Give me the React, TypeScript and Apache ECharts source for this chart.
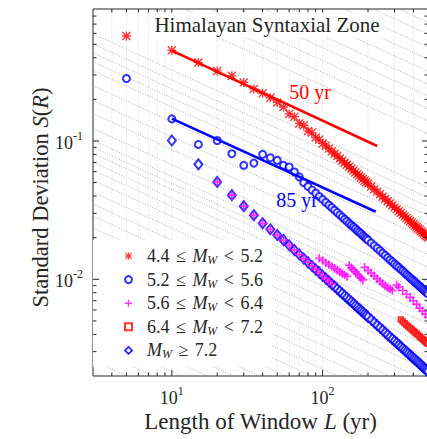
import React, { useEffect, useRef } from 'react';
import * as echarts from 'echarts';

// ---------- axis ranges & ticks ----------
const X_MIN = 3;
const X_MAX = 500;
const Y_MIN = 0.002;
const Y_MAX = 0.9;
const xTickValues = [4, 5, 6, 7, 8, 9, 10, 20, 30, 40, 50, 60, 70, 80, 90, 100, 200, 300, 400];
const xMajorTicks = [10, 100];
const yTickValues = [0.003, 0.004, 0.005, 0.006, 0.007, 0.008, 0.009, 0.01, 0.02, 0.03, 0.04, 0.05, 0.06, 0.07, 0.08, 0.09, 0.1, 0.2, 0.3, 0.4, 0.5, 0.6, 0.7, 0.8];
const yMajorTicks = [0.01, 0.1];

// ---------- 4.4 <= Mw < 5.2 (red asterisks) ----------
const winA = [5, 10, 15, 20, 25, 30, 35, 40, 45, 50, 55, 60, 65, 70, 75, 80, 85, 90, 95, 100,
  105, 110, 115, 120, 125, 130, 135, 140, 145, 150, 155, 160, 165, 170, 175, 180, 185, 190, 195, 200,
  210, 220, 230, 240, 250, 260, 270, 280, 290, 300,
  310, 320, 330, 340, 350, 360, 370, 380, 390, 400, 410, 420, 430, 440, 450, 460, 470, 480, 490, 500];
const sA = [0.574, 0.453, 0.369, 0.321, 0.296, 0.265, 0.238, 0.221, 0.205, 0.190, 0.176, 0.157, 0.150, 0.134, 0.130, 0.118, 0.115, 0.106, 0.102, 0.096,
  0.0922, 0.0881, 0.0843, 0.0809, 0.0778, 0.0748, 0.0721, 0.0696, 0.0673, 0.0651, 0.0630, 0.0611, 0.0593, 0.0576, 0.0560, 0.0545, 0.0531, 0.0517, 0.0504, 0.0492,
  0.0469, 0.0448, 0.0429, 0.0412, 0.0396, 0.0381, 0.0367, 0.0354, 0.0342, 0.0331,
  0.0321, 0.0311, 0.0302, 0.0293, 0.0285, 0.0277, 0.0270, 0.0263, 0.0256, 0.0250, 0.0244, 0.0239, 0.0233, 0.0228, 0.0223, 0.0218, 0.0214, 0.0209, 0.0205, 0.0201];

// ---------- 5.2 <= Mw < 5.6 (blue circles) ----------
const winB = [5, 10, 15, 20, 25, 30, 35, 40, 45, 50, 55, 60, 65, 70, 75, 80, 85, 90, 95, 100,
  105, 110, 115, 120, 125, 130, 135, 140, 145, 150, 155, 160, 165, 170, 175, 180, 185, 190, 195, 200,
  210, 220, 230, 240, 250, 260, 270, 280, 290, 300,
  310, 320, 330, 340, 350, 360, 370, 380, 390, 400, 410, 420, 430, 440, 450, 460, 470, 480, 490, 500];
const sB = [0.283, 0.1445, 0.0944, 0.1008, 0.0809, 0.0667, 0.0692, 0.0800, 0.0757, 0.0724, 0.0667, 0.0649, 0.0597, 0.0550, 0.0500, 0.0469, 0.0442, 0.0419, 0.0397, 0.0378,
  0.0360, 0.0344, 0.0330, 0.0316, 0.0304, 0.0292, 0.0282, 0.0272, 0.0263, 0.0254, 0.0246, 0.0239, 0.0232, 0.0225, 0.0219, 0.0213, 0.0207, 0.0202, 0.0197, 0.0192,
  0.01832, 0.0175, 0.01677, 0.0161, 0.01546, 0.0149, 0.01434, 0.0138, 0.01338, 0.0129,
  0.01253, 0.0122, 0.01179, 0.0115, 0.01114, 0.0108, 0.01055, 0.0103, 0.01002, 0.00978, 0.00954, 0.00932, 0.00911, 0.00891, 0.00872, 0.00853, 0.00835, 0.00818, 0.00802, 0.00786];

// ---------- 5.6 <= Mw < 6.4 (magenta plus) ----------
const winC = [20, 25, 30, 35, 40, 45, 50, 55, 60, 65, 70, 75, 80, 85, 90, 95, 100, 105, 110, 115,
  95, 100, 105, 110, 115, 120, 125, 130, 135, 140, 145,
  150, 155, 160, 165, 170, 175, 180, 185,
  190, 200, 210, 220, 230, 240, 250, 260, 270, 280, 290,
  310, 320, 340, 360, 380, 400, 420, 440, 460, 480, 500];
const sC = [0.0506, 0.0406, 0.0338, 0.0291, 0.0254, 0.0230, 0.0209, 0.0192, 0.0176, 0.0163, 0.0151, 0.0141, 0.0133, 0.0125, 0.0118, 0.0112, 0.0106, 0.0101, 0.0097, 0.0093,
  0.0142, 0.0137, 0.0132, 0.0128, 0.0124, 0.0120, 0.0117, 0.0113, 0.0110, 0.0108, 0.0105,
  0.0126, 0.0121, 0.0117, 0.0113, 0.0109, 0.0105, 0.0102, 0.0099,
  0.0122, 0.0116, 0.0111, 0.0106, 0.0101, 0.0097, 0.0093, 0.0090, 0.0087, 0.0085, 0.0083,
  0.0091, 0.0088, 0.0083, 0.0078, 0.0074, 0.0070, 0.0066, 0.0062, 0.0059, 0.0056, 0.0053];

// ---------- 6.4 <= Mw < 7.2 (red squares) ----------
const winD = [90, 100, 110, 120, 130, 140, 150, 160, 170, 180, 190, 200, 210, 220, 230, 240, 250, 260, 270, 280, 290, 300, 310, 320,
  330, 340, 350, 360, 370, 380, 390, 400, 410, 420, 430, 440, 450, 460, 470, 480, 490, 500];
const sD = [0.01179, 0.01062, 0.00967, 0.00887, 0.00819, 0.00761, 0.00711, 0.00667, 0.00628, 0.00594, 0.00563, 0.00535, 0.0051, 0.00487, 0.00466, 0.00447, 0.00429, 0.00412, 0.00397, 0.00383, 0.0037, 0.00358, 0.00347, 0.00336,
  0.00512, 0.00495, 0.00481, 0.00468, 0.00456, 0.00444, 0.00433, 0.00423, 0.00413, 0.00404, 0.00395, 0.00386, 0.00378, 0.0037, 0.00362, 0.00355, 0.00348, 0.00342];

// ---------- Mw >= 7.2 (blue diamonds) ----------
const winE = [10, 15, 20, 25, 30, 35, 40, 45, 50, 55, 60, 65, 70, 75, 80, 85, 90, 95, 100,
  105, 110, 115, 120, 125, 130, 135, 140, 145, 150, 155, 160, 165, 170, 175, 180, 185, 190, 195, 200,
  210, 220, 230, 240, 250, 260, 270, 280, 290, 300,
  310, 320, 330, 340, 350, 360, 370, 380, 390, 400, 410, 420, 430, 440, 450, 460, 470, 480, 490, 500];
const sE = [0.1008, 0.0678, 0.0506, 0.0406, 0.0338, 0.0291, 0.0254, 0.0230, 0.0209, 0.0192, 0.01762, 0.01627, 0.01512, 0.01412, 0.01325, 0.01248, 0.01179, 0.01118, 0.01062,
  0.01012, 0.00967, 0.00925, 0.00887, 0.00852, 0.00819, 0.00789, 0.00761, 0.00735, 0.00711, 0.00688, 0.00667, 0.00647, 0.00628, 0.0061, 0.00594, 0.00578, 0.00563, 0.00549, 0.00535,
  0.0051, 0.00487, 0.00466, 0.00447, 0.00429, 0.00412, 0.00397, 0.00383, 0.0037, 0.00358,
  0.00347, 0.00336, 0.00326, 0.00316, 0.00307, 0.00299, 0.00291, 0.00283, 0.00276, 0.00269, 0.00263, 0.00257, 0.00251, 0.00245, 0.0024, 0.00234, 0.00229, 0.00225, 0.0022, 0.00216];

// ---------- fitted L^-1/2 lines ----------
const fit50Win = [10, 230];
const fit50S = [0.45, 0.092];
const fit85Win = [10, 225];
const fit85S = [0.145, 0.0308];

// ---------- background dotted L^-1/2 guide lines (S at L = 10) ----------
const guideS10 = [6.32, 5.10, 4.18, 3.37, 2.76, 2.26, 1.825, 1.496, 1.206, 0.989, 0.797,
  0.326, 0.276, 0.2378, 0.2049, 0.1765, 0.1376, 0.1074, 0.0866, 0.0675, 0.0553, 0.0493, 0.0446, 0.0385, 0.0337, 0.0285,
  0.0234, 0.0192, 0.0157, 0.0129, 0.01056, 0.00866, 0.0071, 0.00582, 0.00477, 0.00391, 0.0032, 0.00263, 0.00215, 0.00174, 0.00142, 0.00117];

const legendNames = ['A', 'B', 'C', 'D', 'E'];
const legendLabels: Record<string, string> = {
  A: '{g| }{n|4.4}{sp| }{n|≤}{sp| }{m|M}{w|W}{sp| }{n|<}{sp| }{n|5.2}',
  B: '{g| }{n|5.2}{sp| }{n|≤}{sp| }{m|M}{w|W}{sp| }{n|<}{sp| }{n|5.6}',
  C: '{g| }{n|5.6}{sp| }{n|≤}{sp| }{m|M}{w|W}{sp| }{n|<}{sp| }{n|6.4}',
  D: '{g| }{n|6.4}{sp| }{n|≤}{sp| }{m|M}{w|W}{sp| }{n|<}{sp| }{n|7.2}',
  E: '{g| }{m|M}{w|W}{sp| }{n|≥}{sp| }{n|7.2}',
};

const SERIF = "'Liberation Serif', 'DejaVu Serif', 'Times New Roman', serif";
const INK = '#262626';
const ASTERISK = 'path://M8.5,0L11.5,0L11.5,20L8.5,20Z M0,8.5L20,8.5L20,11.5L0,11.5Z M0,2.1L2.1,0L20,17.9L17.9,20Z M17.9,0L20,2.1L2.1,20L0,17.9Z';
const PLUS = 'path://M4,0L6,0L6,10L4,10Z M0,4L10,4L10,6L0,6Z';

const pairs = (xs: number[], ys: number[]) => xs.map((x, i) => [x, ys[i]]);

const powLabel = (v: number) => {
  const e = Math.log10(v);
  const r = Math.round(e);
  return Math.abs(e - r) < 1e-6 ? `{b|10}{s|${r}}` : '';
};

const tickRich = {
  b: { fontFamily: SERIF, fontSize: 18, color: INK, lineHeight: 22, verticalAlign: 'bottom' },
  s: { fontFamily: SERIF, fontSize: 12, color: INK, lineHeight: 14, verticalAlign: 'top' },
};

export default function App() {
  const ref = useRef<HTMLDivElement>(null);
  useEffect(() => {
    if (!ref.current) return;
    const chart = echarts.init(ref.current, null, { renderer: 'svg' });
    const option: any = {
      animation: false,
      backgroundColor: '#ffffff',
      textStyle: { fontFamily: SERIF },
      grid: {
        left: 93, top: 9, width: 335, height: 367,
        show: true, borderColor: INK, borderWidth: 1, backgroundColor: 'transparent',
        containLabel: false, outerBoundsMode: 'none',
      },
      xAxis: {
        type: 'log', logBase: 10, min: X_MIN, max: X_MAX,
        axisLine: { show: false }, axisTick: { show: false }, splitLine: { show: false },
        axisLabel: { formatter: powLabel, margin: 9, rich: tickRich, color: INK },
        name: 'Length of Window {i|L} (yr)', nameLocation: 'middle', nameGap: 34, nameMoveOverlap: false,
        nameTextStyle: {
          fontFamily: SERIF, fontSize: 23, color: INK,
          rich: { i: { fontFamily: SERIF, fontSize: 23, fontStyle: 'italic', color: INK } },
        },
      },
      yAxis: {
        type: 'log', logBase: 10, min: Y_MIN, max: Y_MAX,
        axisLine: { show: false }, axisTick: { show: false }, splitLine: { show: false },
        axisLabel: { formatter: powLabel, margin: 10, rich: tickRich, color: INK },
        name: 'Standard Deviation {i|S}({i|R})', nameLocation: 'middle', nameGap: 41, nameMoveOverlap: false,
        nameTextStyle: {
          fontFamily: SERIF, fontSize: 22.5, color: INK, padding: [0, 10, 0, 0],
          rich: { i: { fontFamily: SERIF, fontSize: 22.5, fontStyle: 'italic', color: INK } },
        },
      },
      legend: {
        orient: 'vertical', left: 93, top: 240,
        padding: [7, 8, 6, 31], backgroundColor: '#ffffff',
        itemWidth: 7, itemHeight: 7, itemGap: 4.6,
        selectedMode: false,
        data: legendNames,
        formatter: (name: string) => legendLabels[name],
        textStyle: {
          fontFamily: SERIF, fontSize: 18, color: INK,
          rich: {
            g: { width: 10 },
            sp: { width: 6.5 },
            n: { fontFamily: SERIF, fontSize: 18, color: INK, lineHeight: 20 },
            m: { fontFamily: SERIF, fontSize: 18, fontStyle: 'italic', color: INK, lineHeight: 20 },
            w: { fontFamily: SERIF, fontSize: 12, fontStyle: 'italic', color: INK, lineHeight: 12, verticalAlign: 'bottom' },
          },
        },
      },
      graphic: [
        {
          type: 'text', x: 267, y: 25, z: 100,
          style: {
            text: 'Himalayan Syntaxial Zone', fontFamily: SERIF, fontSize: 21, fill: INK,
            align: 'center', verticalAlign: 'middle', backgroundColor: '#ffffff', padding: [2, 3],
          },
        },
        {
          type: 'text', x: 310, y: 92, z: 100,
          style: { text: '50 yr', fontFamily: SERIF, fontSize: 20, fill: '#ff0000', align: 'center', verticalAlign: 'middle' },
        },
        {
          type: 'text', x: 297, y: 200, z: 100,
          style: { text: '85 yr', fontFamily: SERIF, fontSize: 20, fill: '#0000ff', align: 'center', verticalAlign: 'middle' },
        },
      ],
      series: [
        {
          type: 'custom', name: 'guides', silent: true, clip: true, z: 1,
          data: guideS10.map((s) => [10, s]),
          encode: { x: 0, y: 1 },
          renderItem: (_p: any, api: any) => {
            const s10 = api.value(1);
            const a = api.coord([X_MIN, s10 * Math.sqrt(10 / X_MIN)]);
            const b = api.coord([X_MAX, s10 * Math.sqrt(10 / X_MAX)]);
            return {
              type: 'line',
              shape: { x1: a[0], y1: a[1], x2: b[0], y2: b[1] },
              style: { stroke: '#8a8a8a', lineWidth: 0.7, lineDash: [1, 1.6] },
            };
          },
        },
        {
          type: 'custom', name: 'vgrid', silent: true, clip: true, z: 1,
          data: xTickValues.map((v) => [v, Y_MIN]),
          encode: { x: 0, y: 1 },
          renderItem: (_p: any, api: any) => {
            const v = api.value(0);
            const b = api.coord([v, Y_MIN]);
            const t = api.coord([v, Y_MAX]);
            return {
              type: 'line',
              shape: { x1: b[0], y1: b[1], x2: t[0], y2: t[1] },
              style: { stroke: '#cfcfcf', lineWidth: 0.6, lineDash: [1, 1.5] },
            };
          },
        },
        {
          type: 'scatter', name: 'A', data: pairs(winA, sA), symbol: ASTERISK, symbolSize: 9,
          itemStyle: { color: '#ff0000' }, z: 3,
        },
        {
          type: 'scatter', name: 'B', data: pairs(winB, sB), symbol: 'emptyCircle', symbolSize: 7,
          itemStyle: { color: '#0000ff', borderColor: '#0000ff', borderWidth: 1.4 }, z: 3,
        },
        {
          type: 'scatter', name: 'D', data: pairs(winD, sD), symbol: 'emptyRect', symbolSize: 4.5,
          itemStyle: { color: '#ff0000', borderColor: '#ff0000', borderWidth: 1.3 }, z: 3,
        },
        {
          type: 'scatter', name: 'E', data: pairs(winE, sE), symbol: 'emptyDiamond', symbolSize: [8, 10],
          itemStyle: { color: '#0000ff', borderColor: '#0000ff', borderWidth: 1.4 }, z: 3,
        },
        {
          type: 'scatter', name: 'C', data: pairs(winC, sC), symbol: PLUS, symbolSize: 8.5,
          itemStyle: { color: '#ff00ff' }, z: 3,
        },
        {
          type: 'line', name: 'fit50', data: pairs(fit50Win, fit50S), symbol: 'none',
          lineStyle: { color: '#ff0000', width: 2.5 }, z: 4, silent: true,
        },
        {
          type: 'line', name: 'fit85', data: pairs(fit85Win, fit85S), symbol: 'none',
          lineStyle: { color: '#0000ff', width: 2.5 }, z: 4, silent: true,
        },
        {
          type: 'custom', name: 'xticks', silent: true, z: 10,
          data: xTickValues.map((v) => [v, Y_MIN, xMajorTicks.indexOf(v) >= 0 ? 1 : 0]),
          encode: { x: 0, y: 1 },
          renderItem: (_p: any, api: any) => {
            const v = api.value(0);
            const len = api.value(2) === 1 ? 6 : 3.5;
            const b = api.coord([v, Y_MIN]);
            const t = api.coord([v, Y_MAX]);
            const st = { stroke: INK, lineWidth: 1 };
            return {
              type: 'group',
              children: [
                { type: 'line', shape: { x1: b[0], y1: b[1], x2: b[0], y2: b[1] - len }, style: st },
                { type: 'line', shape: { x1: t[0], y1: t[1], x2: t[0], y2: t[1] + len }, style: st },
              ],
            };
          },
        },
        {
          type: 'custom', name: 'yticks', silent: true, z: 10,
          data: yTickValues.map((v) => [X_MIN, v, yMajorTicks.indexOf(v) >= 0 ? 1 : 0]),
          encode: { x: 0, y: 1 },
          renderItem: (_p: any, api: any) => {
            const v = api.value(1);
            const len = api.value(2) === 1 ? 6 : 3.5;
            const l = api.coord([X_MIN, v]);
            const r = api.coord([X_MAX, v]);
            const st = { stroke: INK, lineWidth: 1 };
            return {
              type: 'group',
              children: [
                { type: 'line', shape: { x1: l[0], y1: l[1], x2: l[0] + len, y2: l[1] }, style: st },
                { type: 'line', shape: { x1: r[0], y1: r[1], x2: r[0] - len, y2: r[1] }, style: st },
              ],
            };
          },
        },
      ],
    };
    chart.setOption(option);
    return () => chart.dispose();
  }, []);
  return (
    <div
      ref={ref}
      style={{ position: 'fixed', left: 0, top: 0, width: 427, height: 439, background: '#fff' }}
    />
  );
}
